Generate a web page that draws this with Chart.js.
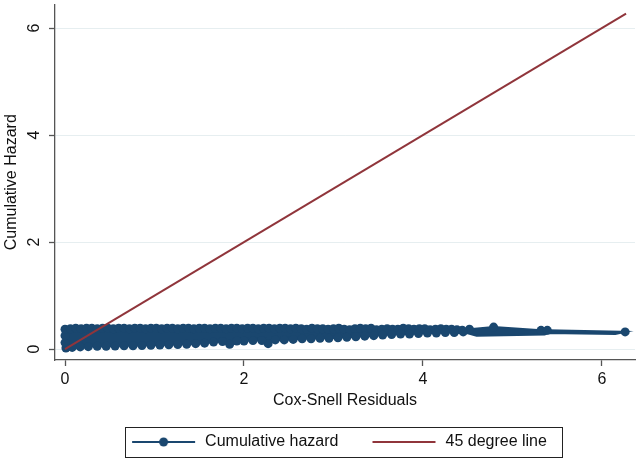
<!DOCTYPE html>
<html><head><meta charset="utf-8">
<script src="https://cdn.jsdelivr.net/npm/chart.js@4.4.1/dist/chart.umd.min.js"></script>
<style>html,body{margin:0;padding:0;background:#fff;}</style>
</head><body>
<canvas id="c" width="640" height="462"></canvas>
<script>
// ---- data ----
const xTicks = [0, 2, 4, 6];
const yTicks = [0, 2, 4, 6];
const seriesNames = ["Cumulative hazard", "45 degree line"];
const xTitle = "Cox-Snell Residuals";
const yTitle = "Cumulative Hazard";

// Cumulative hazard vs Cox-Snell residuals: outline traced around the dense band
// (left edge, top edge, tail, then bottom edge back to the start)
const hazX = [0.01, 0.00, 0.00, 0.00,
  0.06, 0.12, 0.18, 0.24, 0.30, 0.36, 0.42, 0.48, 0.54, 0.60,
  0.66, 0.72, 0.78, 0.84, 0.90, 0.96, 1.02, 1.08, 1.14, 1.20,
  1.26, 1.32, 1.38, 1.44, 1.50, 1.56, 1.62, 1.68, 1.74, 1.80,
  1.86, 1.92, 1.98, 2.04, 2.10, 2.16, 2.22, 2.28, 2.34, 2.40,
  2.46, 2.52, 2.58, 2.64, 2.70, 2.76, 2.82, 2.88, 2.94, 3.00,
  3.06, 3.12, 3.18, 3.24, 3.30, 3.36, 3.42, 3.48, 3.54, 3.60,
  3.66, 3.72, 3.78, 3.84, 3.90, 3.96, 4.02, 4.08, 4.14, 4.20,
  4.26, 4.32, 4.38, 4.44,
  4.52, 4.79, 5.32, 5.39, 6.26,
  6.15, 5.40, 5.36, 4.60,
  4.45, 4.35, 4.25, 4.15, 4.05, 3.95, 3.85, 3.75, 3.65, 3.55,
  3.45, 3.35, 3.25, 3.15, 3.05, 2.95, 2.85, 2.75, 2.65, 2.55,
  2.45, 2.35, 2.27, 2.20, 2.10, 2.00, 1.92, 1.84, 1.76, 1.66,
  1.56, 1.46, 1.36, 1.26, 1.16, 1.06, 0.96, 0.86, 0.76, 0.66,
  0.56, 0.46, 0.36, 0.26, 0.17, 0.08];
const hazY = [0.02, 0.12, 0.25, 0.37,
  0.38, 0.39, 0.38, 0.39, 0.39, 0.38, 0.39, 0.39, 0.38, 0.39,
  0.39, 0.38, 0.39, 0.39, 0.38, 0.39, 0.39, 0.38, 0.39, 0.39,
  0.38, 0.39, 0.39, 0.38, 0.39, 0.39, 0.38, 0.39, 0.39, 0.38,
  0.39, 0.39, 0.38, 0.39, 0.39, 0.38, 0.39, 0.39, 0.38, 0.39,
  0.39, 0.38, 0.39, 0.38, 0.37, 0.39, 0.38, 0.38, 0.37, 0.38,
  0.39, 0.37, 0.36, 0.38, 0.39, 0.38, 0.39, 0.36, 0.37, 0.38,
  0.37, 0.37, 0.39, 0.38, 0.37, 0.38, 0.38, 0.36, 0.37, 0.38,
  0.37, 0.37, 0.36, 0.35,
  0.37, 0.41, 0.35, 0.35, 0.32,
  0.28, 0.30, 0.27, 0.25,
  0.32, 0.31, 0.31, 0.30, 0.30, 0.29, 0.28, 0.28, 0.27, 0.26,
  0.25, 0.24, 0.23, 0.22, 0.21, 0.20, 0.20, 0.19, 0.19, 0.18,
  0.17, 0.17, 0.10, 0.16, 0.16, 0.15, 0.15, 0.09, 0.14, 0.13,
  0.11, 0.10, 0.09, 0.085, 0.08, 0.075, 0.07, 0.065, 0.06, 0.06,
  0.055, 0.05, 0.05, 0.045, 0.04, 0.03];

// 45 degree reference line
const lineX = [0, 6.27];
const lineY = [0, 6.27];

// ---- styling ----
const NAVY = '#1a476f';
const MAROON = '#90353b';
const FONT = "'Liberation Sans', Arial, Helvetica, sans-serif";

const tipIdx = hazX.indexOf(Math.max(...hazX));

function symbolCanvas(kind) {
  const padL = 24, w = 63, padR = 2, c = document.createElement('canvas');
  c.width = padL + w + padR; c.height = 14;
  const g = c.getContext('2d');
  g.lineWidth = 2;
  g.strokeStyle = kind === 0 ? NAVY : MAROON;
  g.beginPath(); g.moveTo(padL, 7); g.lineTo(padL + w, 7); g.stroke();
  if (kind === 0) {
    g.fillStyle = NAVY; g.beginPath(); g.arc(padL + w / 2, 7, 4.5, 0, Math.PI * 2); g.fill();
  }
  return c;
}
const symbols = [symbolCanvas(0), symbolCanvas(1)];

const legendBorder = {
  id: 'legendBorder',
  afterLayout(chart) { chart.legend.left += 10; chart.legend.right += 10; },
  afterDraw(chart) {
    const hb = chart.legend.legendHitBoxes;
    if (!hb || hb.length < 2) return;
    const ctx = chart.ctx;
    const cy = hb[0].top + hb[0].height / 2;
    const l = hb[0].left + 24 - 7, r = hb[1].left + hb[1].width + 15;
    ctx.save(); ctx.strokeStyle = '#222'; ctx.lineWidth = 1;
    ctx.strokeRect(Math.round(l) + 0.5, Math.round(cy - 15) + 0.5, Math.round(r - l), 30);
    ctx.restore();
  }
};

new Chart(document.getElementById('c'), {
  type: 'scatter',
  data: {
    datasets: [
      {
        label: seriesNames[0],
        data: hazX.map((x, i) => ({ x, y: hazY[i] })),
        showLine: true,
        borderColor: NAVY, backgroundColor: NAVY, borderWidth: 2,
        fill: 'shape',
        pointBackgroundColor: NAVY, pointBorderWidth: 0,
        pointRadius: c => (c.dataIndex > tipIdx && hazX[c.dataIndex] > 4.5) ? 0 : 4.5,
        pointHoverRadius: 4.5,
        order: 2
      },
      {
        label: seriesNames[1],
        data: lineX.map((x, i) => ({ x, y: lineY[i] })),
        showLine: true,
        borderColor: MAROON, backgroundColor: MAROON, borderWidth: 2,
        pointRadius: 0, fill: false,
        order: 1
      }
    ]
  },
  options: {
    responsive: false, animation: false,
    layout: { padding: { top: 3, right: 5, left: 0, bottom: 2 } },
    plugins: {
      tooltip: { enabled: false },
      legend: {
        position: 'bottom',
        labels: {
          usePointStyle: true, pointStyleWidth: 89, boxHeight: 16, padding: 10,
          color: '#111', font: { family: FONT, size: 16 },
          generateLabels: () => seriesNames.map((t, i) => ({
            text: t, pointStyle: symbols[i], hidden: false, datasetIndex: i,
            fillStyle: 'transparent', strokeStyle: 'transparent', lineWidth: 0, fontColor: '#111'
          }))
        }
      }
    },
    scales: {
      x: {
        type: 'linear', min: -0.112, max: 6.37,
        afterBuildTicks: s => { s.ticks = xTicks.map(v => ({ value: v })); },
        afterFit: s => { s.height = 64; s.paddingLeft = 0; s.paddingRight = 0; },
        grid: { drawOnChartArea: false, drawTicks: true, tickLength: 6, tickColor: '#555', tickWidth: 1.3 },
        border: { color: '#555', width: 1.3 },
        ticks: { color: '#111', font: { family: FONT, size: 16 }, padding: 4, maxRotation: 0 },
        title: { display: true, text: xTitle, color: '#111', font: { family: FONT, size: 16 }, padding: { top: 0, bottom: 14 } }
      },
      y: {
        type: 'linear', min: -0.205, max: 6.44,
        afterBuildTicks: s => { s.ticks = yTicks.map(v => ({ value: v })); },
        afterFit: s => { s.width = 55; s.paddingTop = 0; s.paddingBottom = 0; },
        grid: { color: '#e6eef0', lineWidth: 1, drawTicks: true, tickLength: 6, tickColor: '#555', tickWidth: 1.3 },
        border: { color: '#555', width: 1.3 },
        ticks: { color: '#111', font: { family: FONT, size: 16 }, padding: 10, minRotation: 90, maxRotation: 90, crossAlign: 'center' },
        title: { display: true, text: yTitle, color: '#111', font: { family: FONT, size: 16 }, padding: { top: 2, bottom: 0 } }
      }
    }
  },
  plugins: [legendBorder]
});
</script>
</body></html>
